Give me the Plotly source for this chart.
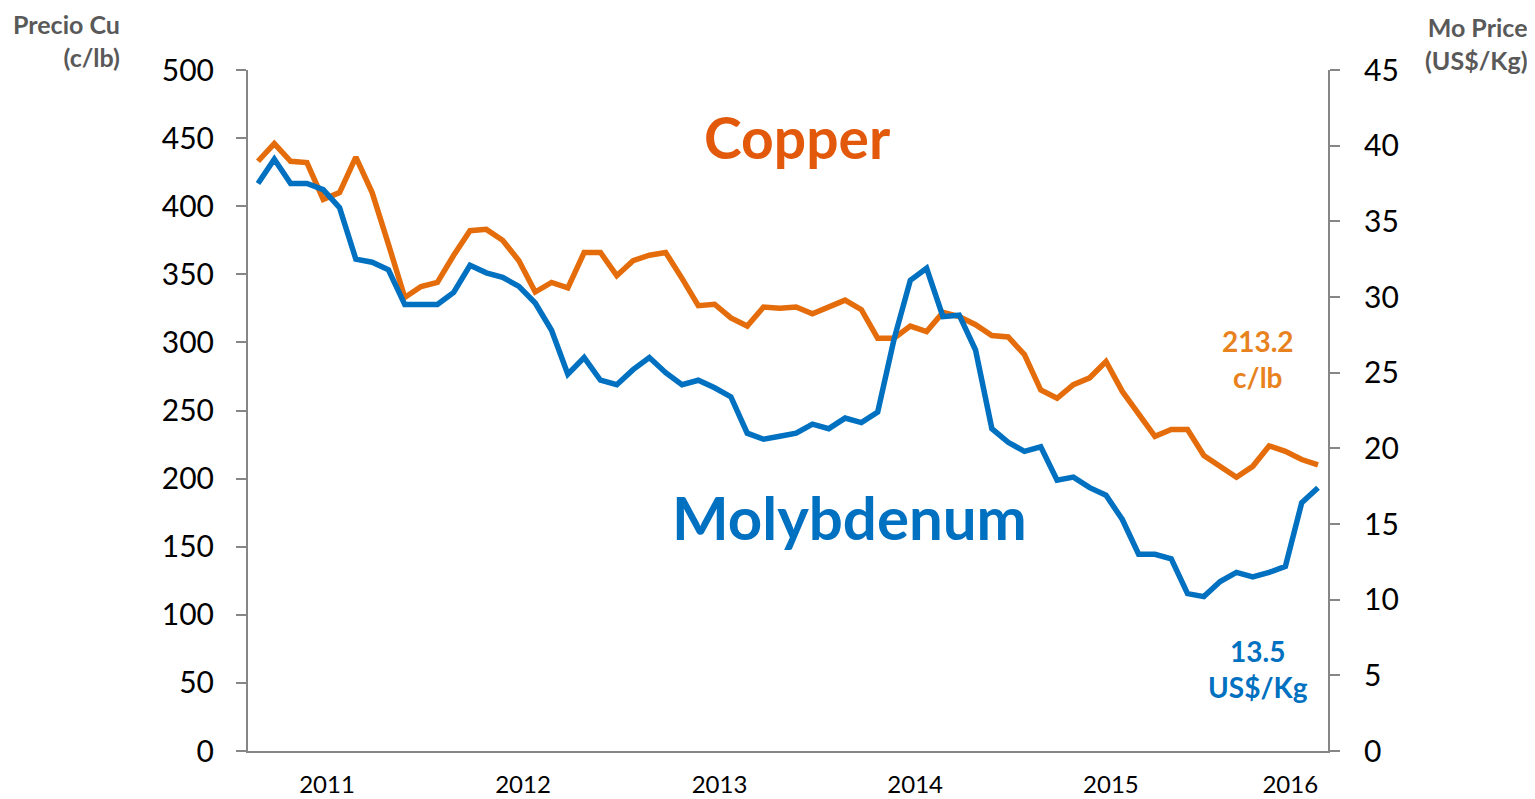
import plotly.graph_objects as go

# Monthly data (index 0..65)
copper = [433, 446, 433, 432, 405, 410, 436, 410, 372, 333, 341, 344, 364, 382, 383, 375,
          360, 337, 344, 340, 366, 366, 349, 360, 364, 366, 347, 327, 328, 318, 312, 326,
          325, 326, 321, 326, 331, 324, 303, 303, 312, 308, 322, 319, 313, 305, 304, 291,
          265, 259, 269, 274, 286, 264, 247, 231, 236, 236, 217, 209, 201, 209, 224, 220,
          214, 210]
molybdenum = [37.5, 39.1, 37.5, 37.5, 37.1, 35.9, 32.5, 32.3, 31.8, 29.5, 29.5, 29.5, 30.3,
              32.1, 31.6, 31.3, 30.7, 29.6, 27.8, 24.9, 26.0, 24.5, 24.2, 25.2, 26.0, 25.0,
              24.2, 24.5, 24.0, 23.4, 21.0, 20.6, 20.8, 21.0, 21.6, 21.3, 22.0, 21.7, 22.4,
              27.2, 31.1, 31.9, 28.7, 28.8, 26.5, 21.3, 20.4, 19.8, 20.1, 17.9, 18.1, 17.4,
              16.9, 15.3, 13.0, 13.0, 12.7, 10.4, 10.2, 11.2, 11.8, 11.5, 11.8, 12.2, 16.4,
              17.4]
year_labels = ["2011", "2012", "2013", "2014", "2015", "2016"]
year_ticks = [4.23, 16.25, 28.3, 40.3, 52.3, 63.3]

x = list(range(len(copper)))
ORANGE = "#E46C0A"
BLUE = "#0070C0"
GRAY = "#868686"
FONT = "Lato"

# page body has an 8px margin; compensate so the plot lands where intended
OFF = 8
W, H = 1535 - OFF, 799 - OFF
ML, MT, MR, MB = 248 - OFF, 70 - OFF, 1535 - 1328, 799 - 751
PW = W - ML - MR
PH = H - MT - MB


def px(X):
    return (X - 248) / PW


def py(Y):
    return (751 - Y) / PH


fig = go.Figure()
fig.add_trace(go.Scatter(x=x, y=copper, mode="lines", line=dict(color=ORANGE, width=5.5),
                         name="Copper", yaxis="y"))
fig.add_trace(go.Scatter(x=x, y=molybdenum, mode="lines", line=dict(color=BLUE, width=5.5),
                         name="Molybdenum", yaxis="y2"))

fig.update_layout(
    width=W, height=H,
    margin=dict(l=ML, r=MR, t=MT, b=MB, autoexpand=False),
    paper_bgcolor="white", plot_bgcolor="white",
    showlegend=False,
    font=dict(family=FONT, color="black"),
    xaxis=dict(range=[-0.613, 65.613], tickvals=year_ticks, ticktext=year_labels,
               showgrid=False, zeroline=False, showline=True, linecolor=GRAY, linewidth=2,
               ticks="", tickfont=dict(size=24, family=FONT), ticklabelstandoff=11,
               automargin=False),
    yaxis=dict(range=[0, 500], dtick=50, showgrid=False, zeroline=False, showline=True,
               linecolor=GRAY, linewidth=2, ticks="outside", ticklen=10, tickcolor=GRAY,
               tickwidth=2, tickfont=dict(size=30, family=FONT), ticklabelstandoff=16,
               automargin=False),
    yaxis2=dict(range=[0, 45], dtick=5, overlaying="y", side="right", showgrid=False,
                zeroline=False, showline=True, linecolor=GRAY, linewidth=2, ticks="outside",
                ticklen=10, tickcolor=GRAY, tickwidth=2, tickfont=dict(size=30, family=FONT),
                ticklabelstandoff=18, automargin=False),
)

ann = [
    dict(text="<b>Copper</b>", x=797, y=137, size=57, color="#E3590B"),
    dict(text="<b>Molybdenum</b>", x=849, y=517, size=60, color=BLUE),
    dict(text="<b>213.2<br>c/lb</b>", x=1258, y=359, size=28, color="#E8821E"),
    dict(text="<b>13.5<br>US$/Kg</b>", x=1258, y=669, size=28, color=BLUE),
]
for a in ann:
    fig.add_annotation(text=a["text"], x=px(a["x"]), y=py(a["y"]), xref="paper", yref="paper",
                       showarrow=False, font=dict(family=FONT, size=a["size"], color=a["color"]),
                       xanchor="center", yanchor="middle")

fig.add_annotation(text="<b>Precio Cu<br>(c/lb)</b>", x=px(122), y=py(40),
                   xref="paper", yref="paper", showarrow=False, xanchor="right", yanchor="middle",
                   align="right", font=dict(family=FONT, size=25, color="#595959"))
fig.add_annotation(text="<b>Mo Price<br>(US$/Kg)</b>", x=px(1530), y=py(44),
                   xref="paper", yref="paper", showarrow=False, xanchor="right", yanchor="middle",
                   align="right", font=dict(family=FONT, size=25, color="#595959"))

fig.write_html("out.html")
